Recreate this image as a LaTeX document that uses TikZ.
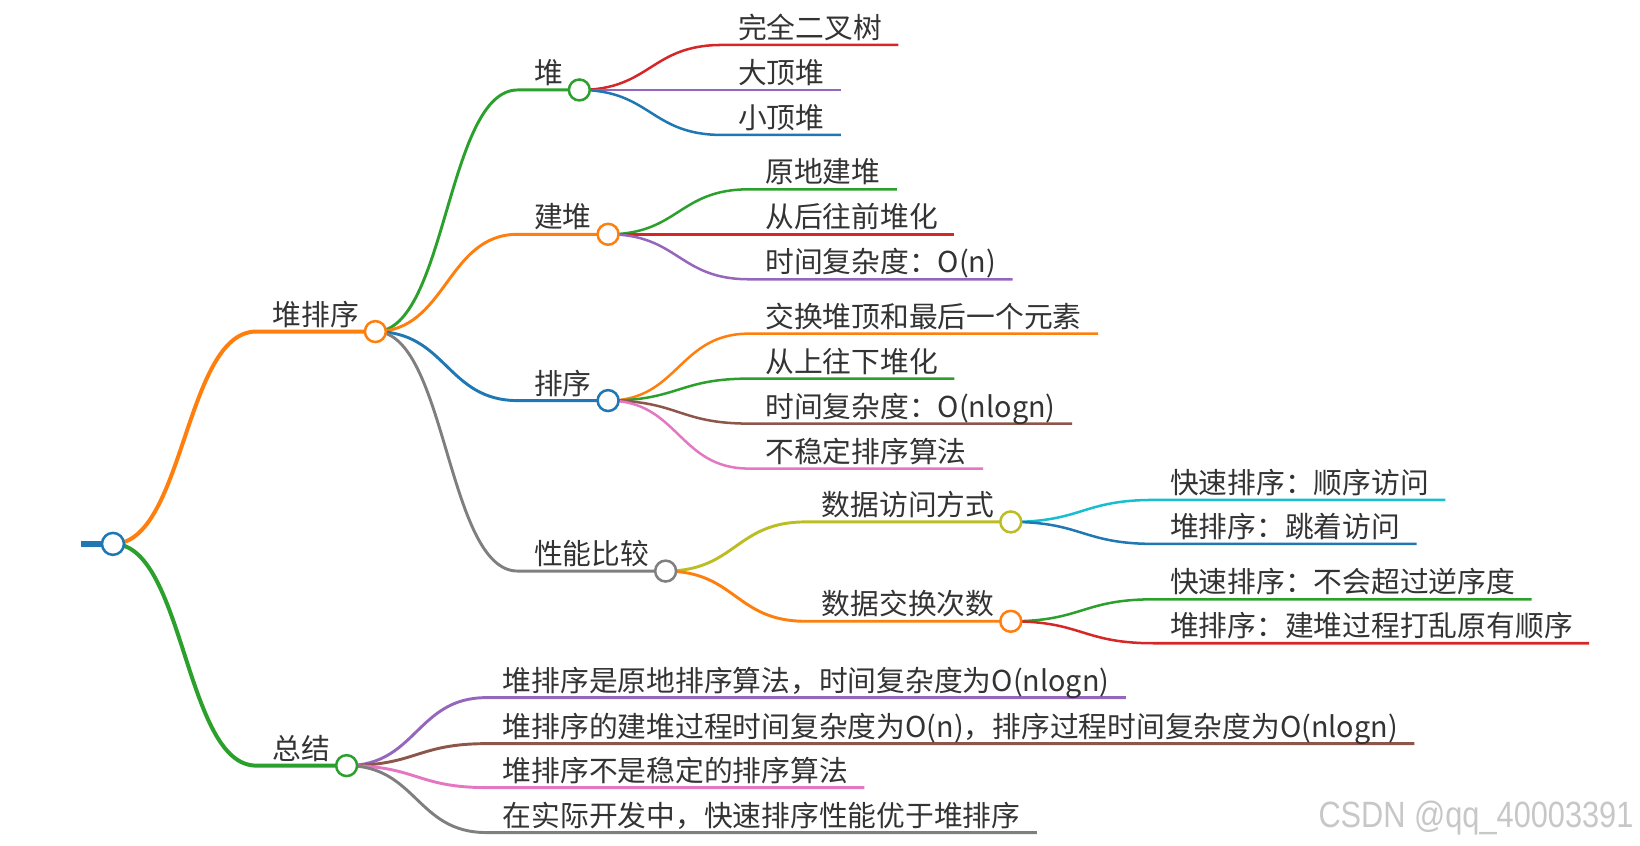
\documentclass[tikz,border=0pt]{standalone}
\usepackage{fontspec}
\setmainfont{Noto Sans CJK SC}
\newfontfamily\wmfont[FakeStretch=0.84]{Liberation Sans}
\usetikzlibrary{calc,backgrounds}

\definecolor{mblue}{HTML}{1F77B4}
\definecolor{morange}{HTML}{FF7F0E}
\definecolor{mgreen}{HTML}{2CA02C}
\definecolor{mred}{HTML}{D62728}
\definecolor{mpurple}{HTML}{9467BD}
\definecolor{mbrown}{HTML}{8C564B}
\definecolor{mpink}{HTML}{E377C2}
\definecolor{mgray}{HTML}{7F7F7F}
\definecolor{molive}{HTML}{BCBD22}
\definecolor{mcyan}{HTML}{17BECF}

\begin{document}
\begin{tikzpicture}[
  x=1pt, y=-1pt,
  topic/.style={anchor=south west, inner xsep=15.5pt, inner ysep=0pt,
                text height=22pt, text depth=6pt, text=black!80,
                font=\fontsize{27.5}{32}\selectfont},
  dot/.style={circle, draw=#1, fill=white, line width=2.4pt,
              minimum size=20pt, inner sep=0pt},
  branch/.style={draw=#1, line width=2.4pt},
  thickbranch/.style={draw=#1, line width=3.8pt},
  midbranch/.style={draw=#1, line width=2.8pt},
  curvy/.style={to path={.. controls ($(\tikztostart)!0.5!(\tikztostart -| \tikztotarget)$)
                and ($(\tikztotarget)!0.5!(\tikztotarget -| \tikztostart)$) .. (\tikztotarget)}},
  wm/.style={font=\wmfont\fontsize{35}{40}\selectfont, text=black!22, inner sep=0pt}
]
\useasboundingbox (0,0) rectangle (1568,808);

% root and first level
\coordinate (stub) at (77,520);
\node[dot=mblue, minimum size=21pt] (root) at (108,520) {};

\node[topic] (heapsort) at (245,317) {堆排序};
\node[dot=morange] (heapsortdot) at (heapsort.south east) {};
\node[topic] (summary) at (245,732) {总结};
\node[dot=mgreen] (summarydot) at (summary.south east) {};

% second level
\node[topic] (heap) at (495,86) {堆};
\node[dot=mgreen] (heapdot) at (heap.south east) {};
\node[topic] (build) at (495,224) {建堆};
\node[dot=morange] (builddot) at (build.south east) {};
\node[topic] (sort) at (495,383) {排序};
\node[dot=mblue] (sortdot) at (sort.south east) {};
\node[topic] (perf) at (495,546) {性能比较};
\node[dot=mgray] (perfdot) at (perf.south east) {};

% heap
\node[topic] (cbt) at (690,43) {完全二叉树};
\node[topic] (maxheap) at (690,86) {大顶堆};
\node[topic] (minheap) at (690,129) {小顶堆};

% build
\node[topic] (inplace) at (716,181) {原地建堆};
\node[topic] (backward) at (716,224) {从后往前堆化};
\node[topic] (buildcost) at (716,267) {时间复杂度：O(n)};

% sort
\node[topic] (swap) at (716,319) {交换堆顶和最后一个元素};
\node[topic] (forward) at (716,362) {从上往下堆化};
\node[topic] (sortcost) at (716,405) {时间复杂度：O(nlogn)};
\node[topic] (unstable) at (716,448) {不稳定排序算法};

% performance
\node[topic] (access) at (770,499) {数据访问方式};
\node[dot=molive] (accessdot) at (access.south east) {};
\node[topic] (exchange) at (770,594) {数据交换次数};
\node[dot=morange] (exchangedot) at (exchange.south east) {};

\node[topic] (qsseq) at (1103,478) {快速排序：顺序访问};
\node[topic] (hsjump) at (1103,520) {堆排序：跳着访问};
\node[topic] (qsinv) at (1103,573) {快速排序：不会超过逆序度};
\node[topic] (hsmess) at (1103,615) {堆排序：建堆过程打乱原有顺序};

% summary
\node[topic] (sum1) at (465,667) {堆排序是原地排序算法，时间复杂度为O(nlogn)};
\node[topic] (sum2) at (465,711) {堆排序的建堆过程时间复杂度为O(n)，排序过程时间复杂度为O(nlogn)};
\node[topic] (sum3) at (465,753) {堆排序不是稳定的排序算法};
\node[topic] (sum4) at (465,796) {在实际开发中，快速排序性能优于堆排序};

\node[wm, anchor=base east] (mark) at (1562,791) {CSDN @qq\_40003391};

\begin{scope}[on background layer]
  \draw[mblue, line width=6pt] (stub) -- (root.center);
  \draw[thickbranch=morange] (root.center) to[curvy] (heapsort.south west) -- (heapsortdot.center);
  \draw[thickbranch=mgreen] (root.center) to[curvy] (summary.south west) -- (summarydot.center);

  \draw[midbranch=mgreen] (heapsortdot.center) to[curvy] (heap.south west) -- (heapdot.center);
  \draw[midbranch=morange] (heapsortdot.center) to[curvy] (build.south west) -- (builddot.center);
  \draw[midbranch=mblue] (heapsortdot.center) to[curvy] (sort.south west) -- (sortdot.center);
  \draw[midbranch=mgray] (heapsortdot.center) to[curvy] (perf.south west) -- (perfdot.center);

  \draw[branch=mred] (heapdot.center) to[curvy] (cbt.south west) -- (cbt.south east);
  \draw[branch=mpurple] (heapdot.center) to[curvy] (maxheap.south west) -- (maxheap.south east);
  \draw[branch=mblue] (heapdot.center) to[curvy] (minheap.south west) -- (minheap.south east);

  \draw[branch=mgreen] (builddot.center) to[curvy] (inplace.south west) -- (inplace.south east);
  \draw[branch=mred] (builddot.center) to[curvy] (backward.south west) -- (backward.south east);
  \draw[branch=mpurple] (builddot.center) to[curvy] (buildcost.south west) -- (buildcost.south east);

  \draw[branch=morange] (sortdot.center) to[curvy] (swap.south west) -- (swap.south east);
  \draw[branch=mgreen] (sortdot.center) to[curvy] (forward.south west) -- (forward.south east);
  \draw[branch=mbrown] (sortdot.center) to[curvy] (sortcost.south west) -- (sortcost.south east);
  \draw[branch=mpink] (sortdot.center) to[curvy] (unstable.south west) -- (unstable.south east);

  \draw[midbranch=molive] (perfdot.center) to[curvy] (access.south west) -- (accessdot.center);
  \draw[midbranch=morange] (perfdot.center) to[curvy] (exchange.south west) -- (exchangedot.center);
  \draw[branch=mcyan] (accessdot.center) to[curvy] (qsseq.south west) -- (qsseq.south east);
  \draw[branch=mblue] (accessdot.center) to[curvy] (hsjump.south west) -- (hsjump.south east);
  \draw[branch=mgreen] (exchangedot.center) to[curvy] (qsinv.south west) -- (qsinv.south east);
  \draw[branch=mred] (exchangedot.center) to[curvy] (hsmess.south west) -- (hsmess.south east);

  \draw[midbranch=mpurple] (summarydot.center) to[curvy] (sum1.south west) -- (sum1.south east);
  \draw[midbranch=mbrown] (summarydot.center) to[curvy] (sum2.south west) -- (sum2.south east);
  \draw[midbranch=mpink] (summarydot.center) to[curvy] (sum3.south west) -- (sum3.south east);
  \draw[midbranch=mgray] (summarydot.center) to[curvy] (sum4.south west) -- (sum4.south east);
\end{scope}
\end{tikzpicture}
\end{document}
